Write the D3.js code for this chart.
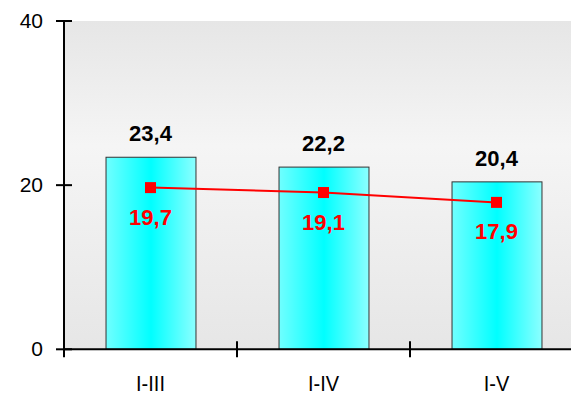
<!DOCTYPE html>
<html><head><meta charset="utf-8">
<script src="https://cdn.jsdelivr.net/npm/d3@7"></script>
<style>
html,body{margin:0;padding:0;background:#fff;}
svg{display:block;font-family:Arial,"Liberation Sans",sans-serif;}
</style></head>
<body><svg id="c" width="571" height="396"></svg>
<script>
const categories = ["I-III", "I-IV", "I-V"];
const barValues = [23.4, 22.2, 20.4];
const lineValues = [19.7, 19.1, 17.9];
const yTicks = [0, 20, 40];

(function () {
const fmt = v => d3.format(".1f")(v).replace(".", ",");
const svg = d3.select("#c");
const mLeft = 64, mRight = 583, mTop = 21, mBottom = 349.3;

const x = d3.scaleBand().domain(categories).range([mLeft, mRight]).paddingInner(0.48).paddingOuter(0.24);
const y = d3.scaleLinear().domain([0, 40]).range([mBottom, mTop]);
const step = x.step();

const defs = svg.append("defs");
const bg = defs.append("linearGradient").attr("id", "bg").attr("x1", 0).attr("y1", 0).attr("x2", 0).attr("y2", 1);
bg.append("stop").attr("offset", "0%").attr("stop-color", "#e6e6e6");
bg.append("stop").attr("offset", "38%").attr("stop-color", "#f5f5f5");
bg.append("stop").attr("offset", "100%").attr("stop-color", "#e6e6e6");
const bf = defs.append("linearGradient").attr("id", "bf").attr("x1", 0).attr("y1", 0).attr("x2", 1).attr("y2", 0);
bf.append("stop").attr("offset", "0%").attr("stop-color", "#70ffff");
bf.append("stop").attr("offset", "50%").attr("stop-color", "#00ffff");
bf.append("stop").attr("offset", "100%").attr("stop-color", "#8cffff");

svg.append("rect").attr("x", mLeft).attr("y", y(40)).attr("width", 571 - mLeft).attr("height", y(0) - y(40)).attr("fill", "url(#bg)");

svg.selectAll("rect.bar").data(barValues).join("rect").attr("class", "bar")
  .attr("x", (d, i) => x(categories[i]) + 0.5)
  .attr("y", d => y(d))
  .attr("width", x.bandwidth())
  .attr("height", d => y(0) - y(d))
  .attr("fill", "url(#bf)").attr("stroke", "#333").attr("stroke-width", 1);

const ax = svg.append("g").attr("stroke", "#000").attr("stroke-width", 2);
ax.append("line").attr("x1", mLeft).attr("x2", mLeft).attr("y1", y(40)).attr("y2", mBottom + 8);
ax.append("line").attr("x1", mLeft).attr("x2", 571).attr("y1", mBottom).attr("y2", mBottom);
yTicks.forEach(t => ax.append("line").attr("x1", mLeft - 8).attr("x2", mLeft + 8).attr("y1", y(t)).attr("y2", y(t)));
for (let i = 1; i < categories.length; i++) {
  const xx = mLeft + step * i;
  ax.append("line").attr("x1", xx).attr("x2", xx).attr("y1", mBottom - 8).attr("y2", mBottom + 8);
}
svg.selectAll("text.yt").data(yTicks).join("text").attr("class", "yt")
  .attr("x", 43).attr("y", d => y(d) + 7).attr("text-anchor", "end")
  .attr("font-size", 21).attr("fill", "#000").text(d => d);

svg.selectAll("text.xt").data(categories).join("text").attr("class", "xt")
  .attr("transform", d => `translate(${x(d) + x.bandwidth() / 2},391) scale(1,1.12)`)
  .attr("text-anchor", "middle").attr("font-size", 20).attr("fill", "#000").text(d => d);

svg.selectAll("text.bl").data(barValues).join("text").attr("class", "bl")
  .attr("x", (d, i) => x(categories[i]) + x.bandwidth() / 2)
  .attr("y", d => y(d) - 16)
  .attr("text-anchor", "middle").attr("font-size", 22).attr("font-weight", "bold").attr("fill", "#000")
  .text(fmt);

const cx = i => x(categories[i]) + x.bandwidth() / 2;
svg.append("path").datum(lineValues)
  .attr("d", d3.line().x((d, i) => cx(i)).y(d => y(d)))
  .attr("fill", "none").attr("stroke", "#ff0000").attr("stroke-width", 2);
svg.selectAll("rect.mk").data(lineValues).join("rect").attr("class", "mk")
  .attr("x", (d, i) => cx(i) - 5.5).attr("y", d => y(d) - 5.5)
  .attr("width", 11).attr("height", 11).attr("fill", "#ff0000");
svg.selectAll("text.ll").data(lineValues).join("text").attr("class", "ll")
  .attr("x", (d, i) => cx(i)).attr("y", d => y(d) + 37)
  .attr("text-anchor", "middle").attr("font-size", 22).attr("font-weight", "bold").attr("fill", "#ff0000")
  .text(fmt);
})();
</script></body></html>
